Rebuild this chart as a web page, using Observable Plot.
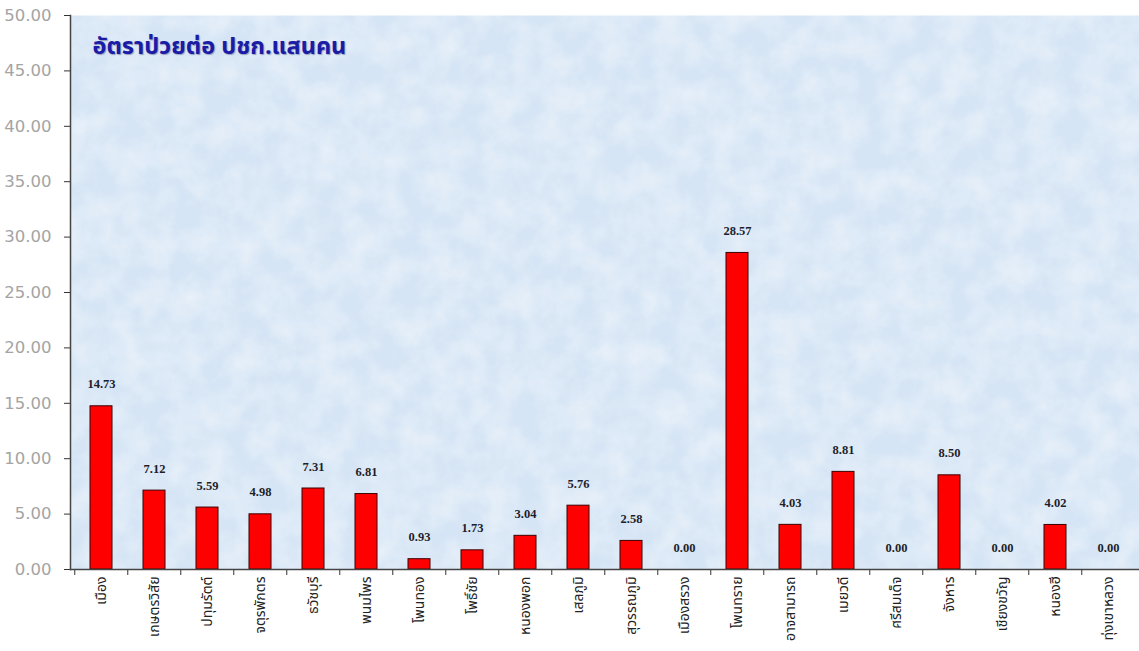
<!DOCTYPE html>
<html>
<head>
<meta charset="utf-8">
<script src="https://cdn.jsdelivr.net/npm/d3@7"></script>
<script src="https://cdn.jsdelivr.net/npm/@observablehq/plot@0.6"></script>
<style>
  html, body { margin: 0; padding: 0; background: #ffffff; }
  #chart { width: 1139px; height: 651px; overflow: hidden; }
</style>
</head>
<body>
<div id="chart"></div>
<script>
const districts = ["เมือง","เกษตรวิสัย","ปทุมรัตต์","จตุรพักตร","ธวัชบุรี","พนมไพร","โพนทอง","โพธิ์ชัย","หนองพอก","เสลภูมิ","สุวรรณภูมิ","เมืองสรวง","โพนทราย","อาจสามารถ","เมยวดี","ศรีสมเด็จ","จังหาร","เชียงขวัญ","หนองฮี","ทุ่งเขาหลวง"];
const rates = [14.73, 7.12, 5.59, 4.98, 7.31, 6.81, 0.93, 1.73, 3.04, 5.76, 2.58, 0.00, 28.57, 4.03, 8.81, 0.00, 8.50, 0.00, 4.02, 0.00];
const yTicks = [0, 5, 10, 15, 20, 25, 30, 35, 40, 45, 50];
const chartTitle = "อัตราป่วยต่อ ปชก.แสนคน";

const data = districts.map((d, i) => ({district: d, rate: rates[i]}));

const W = 1139, H = 651;
const mL = 70, mR = 0, mT = 15, mB = 82;
const step = (W - mL - mR) / districts.length;

const thaiFont = "Tahoma, 'Noto Sans Thai', 'Noto Sans Thai UI', 'Loma', 'Garuda', 'Noto Sans', sans-serif";

const plot = Plot.plot({
  width: W,
  height: H,
  marginLeft: mL,
  marginRight: mR,
  marginTop: mT,
  marginBottom: mB,
  style: {background: "#ffffff", fontFamily: thaiFont, overflow: "visible"},
  x: {domain: districts, paddingInner: 0.59, paddingOuter: 0.295, label: null},
  y: {domain: [0, 50], label: null},
  marks: [
    Plot.frame({fill: "#d6e5f5", stroke: "none"}),
    Plot.axisY({
      ticks: yTicks, tickFormat: d3.format(".2f"), tickSize: 6, tickPadding: 13,
      fontSize: 16.5, fill: "#a4a4a4", stroke: "#333", fontFamily: "'DejaVu Sans', Verdana, sans-serif", label: null
    }),
    Plot.axisX({tickSize: 6, text: null, dx: -step / 2, stroke: "#333", label: null}),
    Plot.axisX({
      tickSize: 0, tickRotate: -90, tickPadding: 7, fontSize: 14, fill: "#222",
      fontFamily: thaiFont, label: null
    }),
    Plot.barY(data, {x: "district", y: "rate", fill: "#ff0000", stroke: "#3a0000", strokeWidth: 1}),
    Plot.text(data, {
      x: "district", y: "rate", text: d => d.rate.toFixed(2), dy: -22,
      fontSize: 12.5, fontWeight: "bold", fill: "#1e1e2a",
      fontFamily: "'Liberation Serif', 'DejaVu Serif', serif"
    }),
    Plot.frame({anchor: "left", stroke: "#444", strokeWidth: 1.5}),
    Plot.frame({anchor: "bottom", stroke: "#444", strokeWidth: 1.5}),
    Plot.text([chartTitle], {
      frameAnchor: "top-left", dx: 22, dy: 31, lineAnchor: "middle", textAnchor: "start",
      fontSize: 23.5, fontWeight: "bold", fill: "#1b1ba6", fontFamily: thaiFont
    })
  ]
});

// subtle paper-like texture on the plot background
(function addTexture(svg) {
  const ns = "http://www.w3.org/2000/svg";
  const defs = document.createElementNS(ns, "defs");
  defs.innerHTML = `
    <filter id="tex" x="0" y="0" width="100%" height="100%">
      <feTurbulence type="fractalNoise" baseFrequency="0.035" numOctaves="4" seed="7" result="n"/>
      <feColorMatrix type="matrix" values="0 0 0 0 1  0 0 0 0 1  0 0 0 0 1  0 0 0 -1.6 1.1" in="n"/>
    </filter>`;
  svg.insertBefore(defs, svg.firstChild);
  const frameRect = svg.querySelector("rect");
  if (frameRect) {
    const r = document.createElementNS(ns, "rect");
    ["x","y","width","height"].forEach(a => r.setAttribute(a, frameRect.getAttribute(a)));
    r.setAttribute("filter", "url(#tex)");
    r.setAttribute("opacity", "0.45");
    frameRect.parentNode.insertBefore(r, frameRect.nextSibling);
  }
  const title = svg.querySelectorAll("text");
  const last = title[title.length - 1];
  if (last) last.style.textShadow = "1px 1px 1px rgba(90,100,140,0.55)";
})(plot);

document.getElementById("chart").appendChild(plot);
</script>
</body>
</html>
